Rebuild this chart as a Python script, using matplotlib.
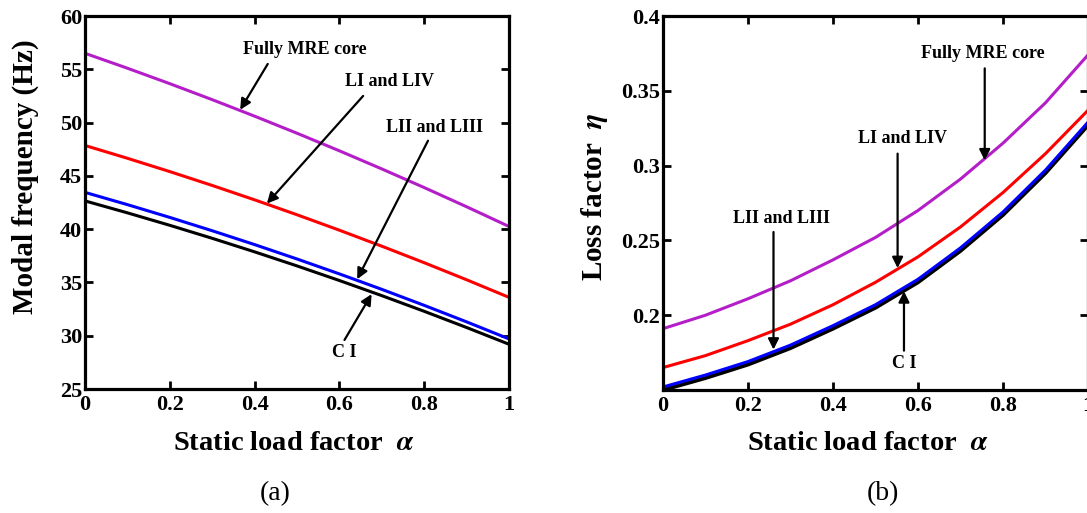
import matplotlib
matplotlib.use("Agg")
import matplotlib.pyplot as plt

# ---- data -------------------------------------------------------------
alpha = [0.0, 0.1, 0.2, 0.3, 0.4, 0.5, 0.6, 0.7, 0.8, 0.9, 1.0]

# (a) modal frequency (Hz)
freq_full_mre = [56.50, 55.10, 53.65, 52.15, 50.60, 49.00, 47.35, 45.65, 43.90, 42.10, 40.25]
freq_li_liv = [47.85, 46.65, 45.40, 44.10, 42.75, 41.35, 39.90, 38.40, 36.85, 35.25, 33.60]
freq_lii_liii = [43.45, 42.30, 41.10, 39.85, 38.55, 37.20, 35.80, 34.35, 32.85, 31.30, 29.70]
freq_ci = [42.65, 41.53, 40.36, 39.14, 37.87, 36.55, 35.18, 33.76, 32.29, 30.77, 29.20]

# (b) loss factor
eta_full_mre = [0.191, 0.200, 0.211, 0.223, 0.237, 0.252, 0.270, 0.291, 0.315, 0.342, 0.374]
eta_li_liv = [0.165, 0.173, 0.183, 0.194, 0.207, 0.222, 0.239, 0.259, 0.282, 0.308, 0.337]
eta_lii_liii = [0.152, 0.160, 0.169, 0.180, 0.193, 0.207, 0.224, 0.245, 0.269, 0.297, 0.329]
eta_ci = [0.150, 0.158, 0.167, 0.178, 0.191, 0.205, 0.222, 0.243, 0.267, 0.295, 0.327]

x_ticks = [0, 0.2, 0.4, 0.6, 0.8, 1.0]
x_ticklabels = ["0", "0.2", "0.4", "0.6", "0.8", "1"]
freq_ticks = [25, 30, 35, 40, 45, 50, 55, 60]
freq_ticklabels = ["25", "30", "35", "40", "45", "50", "55", "60"]
eta_ticks = [0.2, 0.25, 0.3, 0.35, 0.4]
eta_ticklabels = ["0.2", "0.25", "0.3", "0.35", "0.4"]

# ---- style ------------------------------------------------------------
plt.rcParams["font.family"] = ["Liberation Serif", "DejaVu Serif"]
plt.rcParams["font.weight"] = "bold"
plt.rcParams["mathtext.fontset"] = "stix"

PURPLE = "#B41EC8"
RED = "#FF0000"
BLUE = "#0000FF"
BLACK = "#000000"
LW = 2.2

W, H = 1087, 513
fig = plt.figure(figsize=(W / 100, H / 100), dpi=100)
fig.patch.set_facecolor("white")

ax1 = fig.add_axes([85 / W, 1 - 389 / H, 424 / W, 373 / H])
ax2 = fig.add_axes([663 / W, 1 - 390 / H, 425 / W, 374 / H])


def style_axes(ax, yticks, yticklabels, ylim):
    ax.set_xlim(0, 1)
    ax.set_ylim(*ylim)
    ax.set_xticks(x_ticks)
    ax.set_xticklabels(x_ticklabels)
    ax.set_yticks(yticks)
    ax.set_yticklabels(yticklabels)
    ax.tick_params(direction="in", length=6, width=2.0, top=True, right=True,
                   labelsize=16, colors="black")
    ax.tick_params(axis="x", pad=4)
    ax.tick_params(axis="y", pad=2)
    for sp in ax.spines.values():
        sp.set_linewidth(2.3)
    for lab in ax.get_xticklabels() + ax.get_yticklabels():
        lab.set_fontweight("bold")


def arrow(ax, start, tip):
    ax.annotate("", xy=tip, xytext=start,
                arrowprops=dict(arrowstyle="-|>", color="black", lw=1.6,
                                mutation_scale=16, shrinkA=0, shrinkB=0))


def note(ax, x, y, s):
    ax.text(x, y, s, fontsize=13, fontweight="bold", ha="center", va="center")


# ---- (a) modal frequency ---------------------------------------------
ax1.plot(alpha, freq_ci, color=BLACK, lw=LW, solid_capstyle="butt")
ax1.plot(alpha, freq_lii_liii, color=BLUE, lw=LW, solid_capstyle="butt")
ax1.plot(alpha, freq_li_liv, color=RED, lw=LW, solid_capstyle="butt")
ax1.plot(alpha, freq_full_mre, color=PURPLE, lw=LW, solid_capstyle="butt")
style_axes(ax1, freq_ticks, freq_ticklabels, (25, 60))

note(ax1, 0.519, 56.9, "Fully MRE core")
arrow(ax1, (0.431, 55.5), (0.366, 51.2))
note(ax1, 0.717, 53.9, "LI and LIV")
arrow(ax1, (0.656, 52.5), (0.429, 42.4))
note(ax1, 0.825, 49.5, "LII and LIII")
arrow(ax1, (0.809, 48.3), (0.642, 35.3))
note(ax1, 0.612, 28.4, "C I")
arrow(ax1, (0.612, 29.6), (0.676, 33.9))

# ---- (b) loss factor --------------------------------------------------
ax2.plot(alpha, eta_ci, color=BLACK, lw=LW + 0.6, solid_capstyle="butt")
ax2.plot(alpha, eta_lii_liii, color=BLUE, lw=LW, solid_capstyle="butt")
ax2.plot(alpha, eta_li_liv, color=RED, lw=LW, solid_capstyle="butt")
ax2.plot(alpha, eta_full_mre, color=PURPLE, lw=LW, solid_capstyle="butt")
style_axes(ax2, eta_ticks, eta_ticklabels, (0.15, 0.4))

note(ax2, 0.753, 0.3746, "Fully MRE core")
arrow(ax2, (0.757, 0.365), (0.757, 0.3035))
note(ax2, 0.564, 0.318, "LI and LIV")
arrow(ax2, (0.552, 0.308), (0.552, 0.2315))
note(ax2, 0.278, 0.2645, "LII and LIII")
arrow(ax2, (0.260, 0.2556), (0.260, 0.1770))
note(ax2, 0.567, 0.1674, "C I")
arrow(ax2, (0.567, 0.1763), (0.567, 0.2160))

# ---- axis titles and panel tags ----------------------------------------
fig.text(25 / W, 1 - 177 / H, "Modal frequency (Hz)", rotation=90,
         fontsize=21, fontweight="bold", ha="center", va="center")
fig.text(595 / W, 1 - 197 / H, r"Loss factor  $\eta$", rotation=90,
         fontsize=21, fontweight="bold", ha="center", va="center")
fig.text(294 / W, 1 - 444 / H, r"Static load factor  $\alpha$",
         fontsize=20.5, fontweight="bold", ha="center", va="center")
fig.text(868 / W, 1 - 444 / H, r"Static load factor  $\alpha$",
         fontsize=20.5, fontweight="bold", ha="center", va="center")
fig.text(275 / W, 1 - 494 / H, "(a)", fontsize=20, fontweight="normal",
         ha="center", va="center")
fig.text(883 / W, 1 - 494 / H, "(b)", fontsize=20, fontweight="normal",
         ha="center", va="center")

fig.savefig("out.png", dpi=100)
